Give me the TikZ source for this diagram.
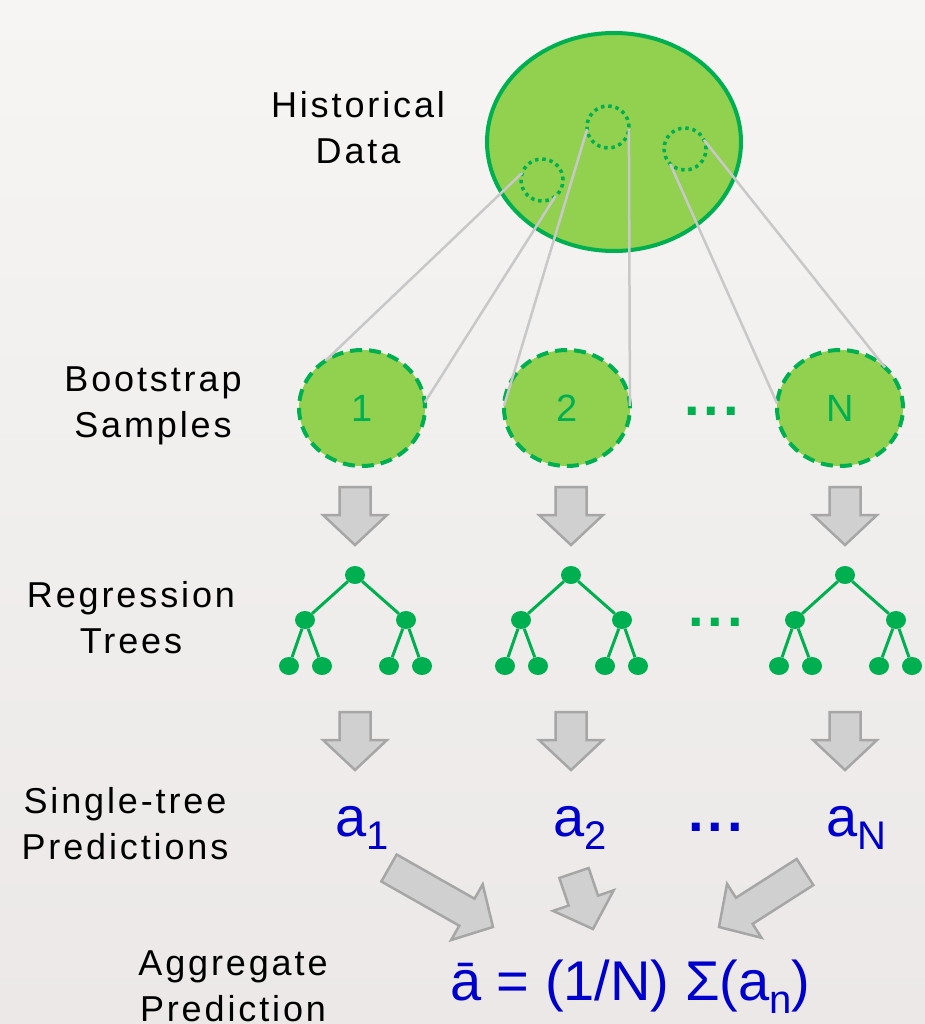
\documentclass[tikz,border=0pt]{standalone}
\usepackage{fontspec}
\setmainfont{Liberation Sans}
\newfontfamily\labfont{Liberation Sans}[LetterSpace=8]
\newfontfamily\dotfont{Liberation Sans}[LetterSpace=7]
\usetikzlibrary{shapes.geometric,calc}
\definecolor{lgreen}{HTML}{92D050}
\definecolor{dgreen}{HTML}{00B050}
\definecolor{lineg}{HTML}{C8C8C8}
\definecolor{afill}{HTML}{D0D0D0}
\definecolor{adraw}{HTML}{A6A6A6}
\definecolor{pblue}{HTML}{0000CC}
\definecolor{bgtop}{HTML}{F6F5F4}
\definecolor{bgbot}{HTML}{EBE8E7}
\newcommand\barrow[2]{%
  \coordinate (bas) at ($(#2)!30pt!(#1)$);
  \draw[blockarrow] ($(#1)!15.5pt!90:(#2)$) -- ($(bas)!15.5pt!-90:(#1)$) -- ($(bas)!32pt!-90:(#1)$) -- (#2) -- ($(bas)!32pt!90:(#1)$) -- ($(bas)!15.5pt!90:(#1)$) -- ($(#1)!15.5pt!-90:(#2)$) -- cycle;}
\begin{document}
\begin{tikzpicture}[x=1pt,y=-1pt,
  lab/.style={anchor=north, align=center, inner sep=0pt, text=black, font=\labfont\fontsize{36}{46}\selectfont},
  boot/.style={ellipse, draw=dgreen, fill=lgreen, line width=4pt, dash pattern=on 12pt off 7pt, minimum width=126pt, minimum height=116pt, inner sep=0pt, outer sep=0pt, text=dgreen, font=\fontsize{38}{38}\selectfont},
  samp/.style={circle, draw=dgreen, line width=3.5pt, dash pattern=on 3.5pt off 3.8pt, minimum size=42pt, inner sep=0pt, outer sep=0pt},
  gline/.style={draw=lineg, line width=2.5pt},
  tnode/.style={ellipse, fill=dgreen, minimum width=20pt, minimum height=18pt, inner sep=0pt},
  tedge/.style={draw=dgreen, line width=3pt},
  blockarrow/.style={fill=afill, draw=adraw, line width=2.5pt, line join=miter},
  dotsg/.style={anchor=base west, inner sep=0pt, font=\dotfont\bfseries\fontsize{56}{56}\selectfont},
  pred/.style={anchor=base west, inner sep=0pt, text=pblue, font=\fontsize{56}{56}\selectfont}]
\useasboundingbox (0,0) rectangle (925,1024);
\shade[top color=bgtop, bottom color=bgbot] (0,0) rectangle (925,1024);

% historical data
\node[ellipse, draw=dgreen, fill=lgreen, line width=4pt, minimum width=254pt, minimum height=218pt, inner sep=0pt] (hist) at (614,142) {};
\node[samp] (s1) at (542,180) {};
\node[samp] (s2) at (608,127) {};
\node[samp] (s3) at (685,149) {};

% bootstrap samples
\node[boot] (c1) at (362,408) {1};
\node[boot] (c2) at (567,408) {2};
\node[boot] (cN) at (840,408) {N};
\node[dotsg, text=dgreen] (dots1) at (684,415) {...};

\draw[gline] (s1.160) -- (c1.128);
\draw[gline] (s1.-50) -- (c1.5);
\draw[gline] (s2.186) -- (c2.178);
\draw[gline] (s2.-6) -- (c2.2);
\draw[gline] (s3.225) -- (cN.176);
\draw[gline] (s3.26) -- (cN.42);

% labels
\node[lab] (lhist) at (358,91) {Historical\\Data};
\node[lab] (lboot) at (153,367) {Bootstrap\\Samples};
\node[lab] (ltree) at (131,581) {Regression\\Trees};
\node[lab] (lpred) at (125,787) {Single-tree\\Predictions};
\node[lab] (lagg) at (233,951) {Aggregate\\Prediction};

% arrows and trees
\foreach \i/\x in {1/355,2/571,3/845}{
  \coordinate (dt\i) at (\x,487);
  \coordinate (dh\i) at (\x,545);
  \coordinate (et\i) at (\x,712);
  \coordinate (eh\i) at (\x,770);
  \barrow{dt\i}{dh\i}
  \barrow{et\i}{eh\i}
  \node[tnode] (t\i r) at (\x,575) {};
  \node[tnode] (t\i a) at (\x-50,620) {};
  \node[tnode] (t\i b) at (\x+51,620) {};
  \node[tnode] (t\i aa) at (\x-66,666) {};
  \node[tnode] (t\i ab) at (\x-33,666) {};
  \node[tnode] (t\i ba) at (\x+34,666) {};
  \node[tnode] (t\i bb) at (\x+67,666) {};
  \draw[tedge] (t\i r) -- (t\i a);
  \draw[tedge] (t\i r) -- (t\i b);
  \draw[tedge] (t\i a) -- (t\i aa);
  \draw[tedge] (t\i a) -- (t\i ab);
  \draw[tedge] (t\i b) -- (t\i ba);
  \draw[tedge] (t\i b) -- (t\i bb);
}
\node[dotsg, text=dgreen] (dots2) at (688,626) {...};

% predictions
\node[pred] (p1) at (335,836) {a\raisebox{-13pt}{\fontsize{40}{40}\selectfont 1}};
\node[pred] (p2) at (553,836) {a\raisebox{-13pt}{\fontsize{40}{40}\selectfont 2}};
\node[pred] (pN) at (826,836) {a\raisebox{-13pt}{\fontsize{40}{40}\selectfont N}};
\node[dotsg, text=pblue] (dots3) at (688,831) {...};

% aggregate
\coordinate (ft1) at (389,868);
\coordinate (fh1) at (493,927);
\coordinate (ft2) at (574,873);
\coordinate (fh2) at (593,929);
\coordinate (ft3) at (805,872);
\coordinate (fh3) at (719,927);
\barrow{ft1}{fh1}
\barrow{ft2}{fh2}
\barrow{ft3}{fh3}
\node[pred] (agg) at (450,1000) {ā = (1/N) Σ(a\raisebox{-13pt}{\fontsize{40}{40}\selectfont n})};
\end{tikzpicture}
\end{document}
